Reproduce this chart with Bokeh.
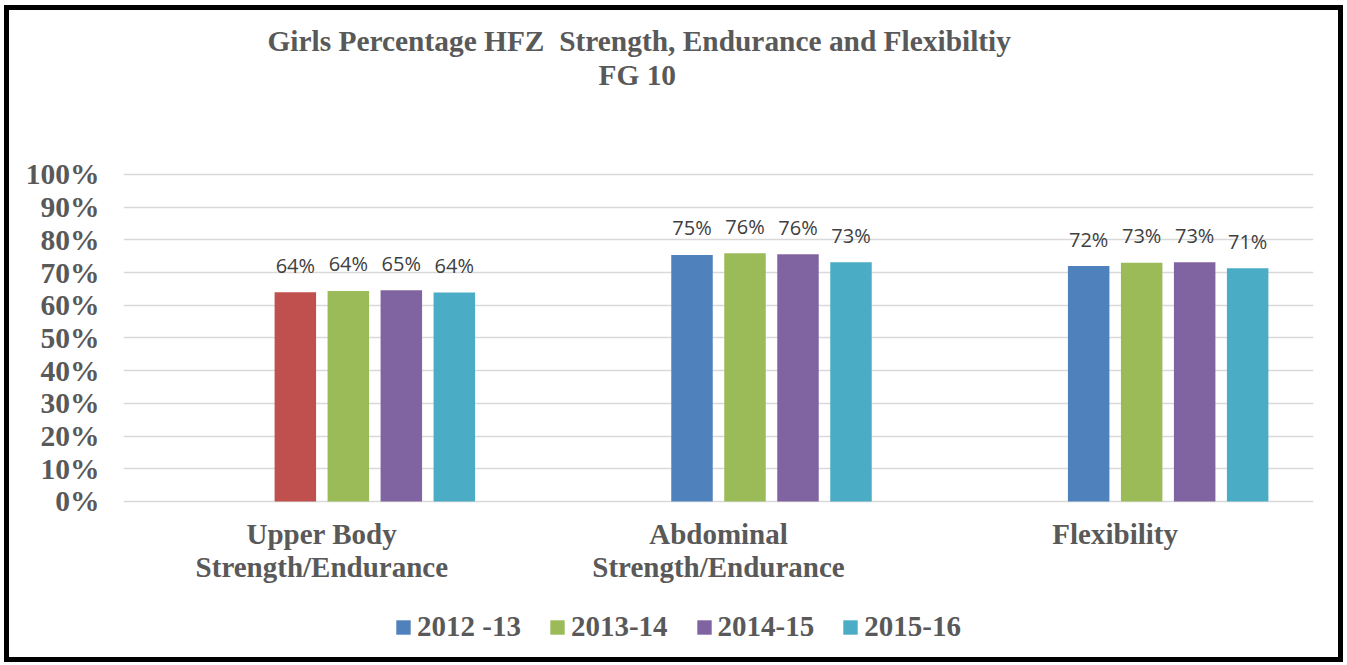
from bokeh.plotting import figure
from bokeh.models import (FactorRange, Range1d, ColumnDataSource, Title, Legend, LegendItem,
                          FixedTicker, CustomJSTickFormatter)
from bokeh.transform import dodge
from bokeh.core.properties import value
from bokeh.embed import file_html
from bokeh.resources import INLINE

# ---------------- data ----------------
categories = ["Upper Body\nStrength/Endurance", "Abdominal\nStrength/Endurance", "Flexibility"]
years = ["2012 -13", "2013-14", "2014-15", "2015-16"]
v_2012_13 = [64.0, 75.4, 72.0]
v_2013_14 = [64.4, 75.9, 73.0]
v_2014_15 = [64.6, 75.6, 73.2]
v_2015_16 = [63.9, 73.2, 71.3]
y_ticks = [0, 10, 20, 30, 40, 50, 60, 70, 80, 90, 100]
title_text = "Girls Percentage HFZ\u00a0 Strength, Endurance and Flexibiltiy"
subtitle_text = "FG 10"

series = [v_2012_13, v_2013_14, v_2014_15, v_2015_16]

# ---------------- style ----------------
BLUE, RED, GREEN, PURPLE, TEAL = "#4F81BD", "#C0504D", "#9BBB59", "#8064A2", "#4BACC6"
series_colors = [[RED, BLUE, BLUE], [GREEN] * 3, [PURPLE] * 3, [TEAL] * 3]
offsets = [-0.0668, 0.0668, 0.2004, 0.3340]
bar_w = 0.1046
SERIF = "Liberation Serif"
GREY = "#595959"

# the frame reaches down to the legend; the value axis keeps 0..100 % on its ticks
p = figure(x_range=FactorRange(*categories, range_padding=0),
           y_range=Range1d(-44.65, 100.61),
           width=1329, height=647, output_backend="svg", toolbar_location=None,
           min_border_left=114, min_border_right=35, min_border_top=162, min_border_bottom=20)
p.styles = {"box-sizing": "content-box", "border": "5px solid black",
            "margin-left": "4px", "margin-top": "5px"}
p.title = None
p.outline_line_color = None
p.background_fill_color = "white"
p.border_fill_color = "white"

# title: spacer next to the frame, then the two title lines
p.add_layout(Title(text=" ", text_font_size="2px", standoff=78), "above")
p.add_layout(Title(text=subtitle_text, align="left", offset=475, standoff=0,
                   text_font=SERIF, text_font_style="bold", text_font_size="29.4px",
                   text_color=GREY), "above")
p.add_layout(Title(text=title_text, align="left", offset=144, standoff=0,
                   text_font=SERIF, text_font_style="bold", text_font_size="29.4px",
                   text_color=GREY), "above")

renderers = []
for i, vals in enumerate(series):
    src = ColumnDataSource(dict(cat=categories, val=vals, color=series_colors[i],
                                lab=[f"{int(v + 0.5)}%" for v in vals]))
    r = p.vbar(x=dodge("cat", offsets[i], range=p.x_range), top="val", width=bar_w, bottom=0,
               source=src, fill_color="color", line_color=None)
    renderers.append(r)
    p.text(x=dodge("cat", offsets[i], range=p.x_range), y="val", text="lab", source=src,
           text_font=value("Open Sans"), text_font_size="20px", text_color="#404040",
           text_align="center", text_baseline="middle", y_offset=-27)

# axes
p.yaxis.ticker = FixedTicker(ticks=y_ticks)
p.yaxis.formatter = CustomJSTickFormatter(code="return tick.toFixed(0) + '%';")
p.yaxis.major_label_text_font = SERIF
p.yaxis.major_label_text_font_style = "bold"
p.yaxis.major_label_text_font_size = "29.5px"
p.yaxis.major_label_text_color = GREY
p.yaxis.axis_line_color = None
p.yaxis.major_tick_line_color = None
p.yaxis.minor_tick_line_color = None
p.yaxis.major_label_standoff = 18

p.xaxis.fixed_location = -24.5
p.xaxis.major_label_text_font = SERIF
p.xaxis.major_label_text_font_style = "bold"
p.xaxis.major_label_text_font_size = "29px"
p.xaxis.major_label_text_color = GREY
p.xaxis.major_label_text_line_height = 1.05
p.xaxis.axis_line_color = None
p.xaxis.major_tick_line_color = None
p.xaxis.minor_tick_line_color = None
p.xaxis.major_label_standoff = -70

p.xgrid.grid_line_color = None
p.ygrid.grid_line_color = "#D9D9D9"
p.ygrid.grid_line_width = 1.5
p.ygrid.ticker = FixedTicker(ticks=y_ticks)

items = [LegendItem(label=years[i], renderers=[renderers[i]], index=1) for i in range(4)]
legend = Legend(items=items, orientation="horizontal", location=(271, 4),
                label_text_font=SERIF, label_text_font_style="bold", label_text_font_size="29px",
                label_text_color=GREY, glyph_width=18, glyph_height=18, label_standoff=5,
                spacing=27, padding=0, margin=0, border_line_color=None,
                background_fill_alpha=0)
p.add_layout(legend, "center")

open("out.html", "w").write(file_html(p, INLINE))
